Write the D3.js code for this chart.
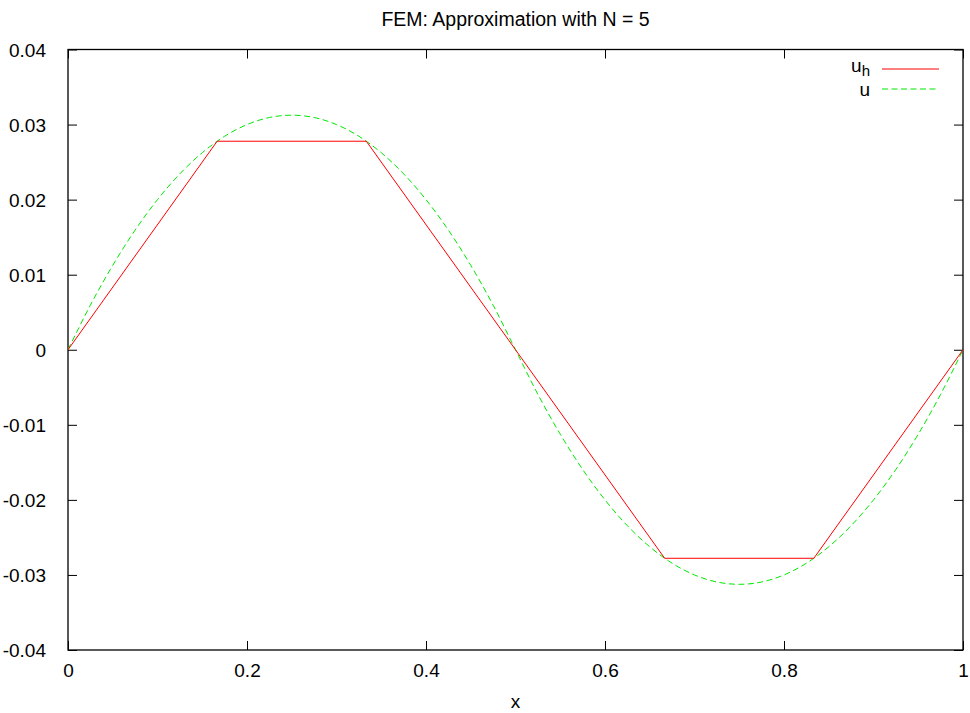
<!DOCTYPE html>
<html>
<head>
<meta charset="utf-8">
<script src="https://cdn.jsdelivr.net/npm/d3@7"></script>
<style>
  html, body { margin: 0; padding: 0; background: #fff; }
  text { font-family: "Liberation Sans", Arial, sans-serif; fill: #000; }
</style>
</head>
<body>
<svg id="chart" width="970" height="713"></svg>
<script>
// ---- data ----
const titleText = "FEM: Approximation with N = 5";
const xLabel = "x";
const xTicks = [0, 0.2, 0.4, 0.6, 0.8, 1];
const xTickLabels = ["0", "0.2", "0.4", "0.6", "0.8", "1"];
const yTicks = [-0.04, -0.03, -0.02, -0.01, 0, 0.01, 0.02, 0.03, 0.04];
const yTickLabels = ["-0.04", "-0.03", "-0.02", "-0.01", "0", "0.01", "0.02", "0.03", "0.04"];

// FEM approximation u_h (nodes)
const uhX = [0, 0.16667, 0.33333, 0.5, 0.66667, 0.83333, 1];
const uhY = [0, 0.02778, 0.02778, 0, -0.02778, -0.02778, 0];

// exact solution u
const uX = [0, 0.025, 0.05, 0.075, 0.1, 0.125, 0.15, 0.175, 0.2, 0.225, 0.25,
            0.275, 0.3, 0.325, 0.35, 0.375, 0.4, 0.425, 0.45, 0.475, 0.5,
            0.525, 0.55, 0.575, 0.6, 0.625, 0.65, 0.675, 0.7, 0.725, 0.75,
            0.775, 0.8, 0.825, 0.85, 0.875, 0.9, 0.925, 0.95, 0.975, 1];
const uY = [0, 0.00594, 0.01125, 0.01594, 0.02, 0.02344, 0.02625, 0.02844, 0.03, 0.03094, 0.03125,
            0.03094, 0.03, 0.02844, 0.02625, 0.02344, 0.02, 0.01594, 0.01125, 0.00594, 0,
            -0.00594, -0.01125, -0.01594, -0.02, -0.02344, -0.02625, -0.02844, -0.03, -0.03094, -0.03125,
            -0.03094, -0.03, -0.02844, -0.02625, -0.02344, -0.02, -0.01594, -0.01125, -0.00594, 0];

const legendMain = "u";
const legendSub = "h";
const legendSecond = "u";

// ---- layout ----
const L = 68, R = 963, T = 49.5, B = 650;
const svg = d3.select("#chart");
const x = d3.scaleLinear().domain([0, 1]).range([L, R]);
const y = d3.scaleLinear().domain([-0.04, 0.04]).range([B, T]);
const fs = 19;

// title
svg.append("text").attr("x", (L + R) / 2).attr("y", 26).attr("text-anchor", "middle")
  .style("font-size", "19.5px").text(titleText);

// axes ticks (inward, mirrored)
const tickLen = 9;
const gx = svg.append("g").attr("transform", `translate(0,${B})`)
  .call(d3.axisBottom(x).tickValues(xTicks).tickFormat((d, i) => xTickLabels[i]).tickSize(-tickLen).tickPadding(14));
const gxTop = svg.append("g").attr("transform", `translate(0,${T})`)
  .call(d3.axisTop(x).tickValues(xTicks).tickFormat("").tickSize(-tickLen));
const gy = svg.append("g").attr("transform", `translate(${L},0)`)
  .call(d3.axisLeft(y).tickValues(yTicks).tickFormat((d, i) => yTickLabels[i]).tickSize(-tickLen).tickPadding(22));
const gyR = svg.append("g").attr("transform", `translate(${R},0)`)
  .call(d3.axisRight(y).tickValues(yTicks).tickFormat("").tickSize(-tickLen));

[gx, gxTop, gy, gyR].forEach(g => {
  g.select(".domain").remove();
  g.selectAll(".tick line").attr("stroke", "#000").attr("stroke-width", 1);
  g.selectAll(".tick text").style("font-size", fs + "px").attr("font-family", "Liberation Sans, Arial, sans-serif").attr("fill", "#000");
});
gy.selectAll(".tick text").attr("dy", "0.35em");

// frame
svg.append("rect").attr("x", L).attr("y", T).attr("width", R - L).attr("height", B - T)
  .attr("fill", "none").attr("stroke", "#000").attr("stroke-width", 1.3);

// x label
svg.append("text").attr("x", (L + R) / 2).attr("y", 708).attr("text-anchor", "middle")
  .style("font-size", fs + "px").text(xLabel);

// lines
const uhData = uhX.map((d, i) => [d, uhY[i]]);
const uData = uX.map((d, i) => [d, uY[i]]);
svg.append("path").datum(uData)
  .attr("d", d3.line().x(d => x(d[0])).y(d => y(d[1])).curve(d3.curveMonotoneX))
  .attr("fill", "none").attr("stroke", "#00e800").attr("stroke-width", 1).attr("stroke-dasharray", "6,3.5");
svg.append("path").datum(uhData)
  .attr("d", d3.line().x(d => x(d[0])).y(d => y(d[1])))
  .attr("fill", "none").attr("stroke", "#ff0000").attr("stroke-width", 1);

// legend
const lg = svg.append("g");
const t1 = lg.append("text").attr("x", 870).attr("y", 72).attr("text-anchor", "end").style("font-size", fs + "px");
t1.append("tspan").text(legendMain);
t1.append("tspan").attr("dy", 4).style("font-size", "15px").text(legendSub);
lg.append("line").attr("x1", 882).attr("x2", 939).attr("y1", 69).attr("y2", 69)
  .attr("stroke", "#ff0000").attr("stroke-width", 1);
lg.append("text").attr("x", 870).attr("y", 96).attr("text-anchor", "end").style("font-size", fs + "px").text(legendSecond);
lg.append("line").attr("x1", 882).attr("x2", 939).attr("y1", 89).attr("y2", 89)
  .attr("stroke", "#00e800").attr("stroke-width", 1).attr("stroke-dasharray", "6,3.5");
</script>
</body>
</html>
